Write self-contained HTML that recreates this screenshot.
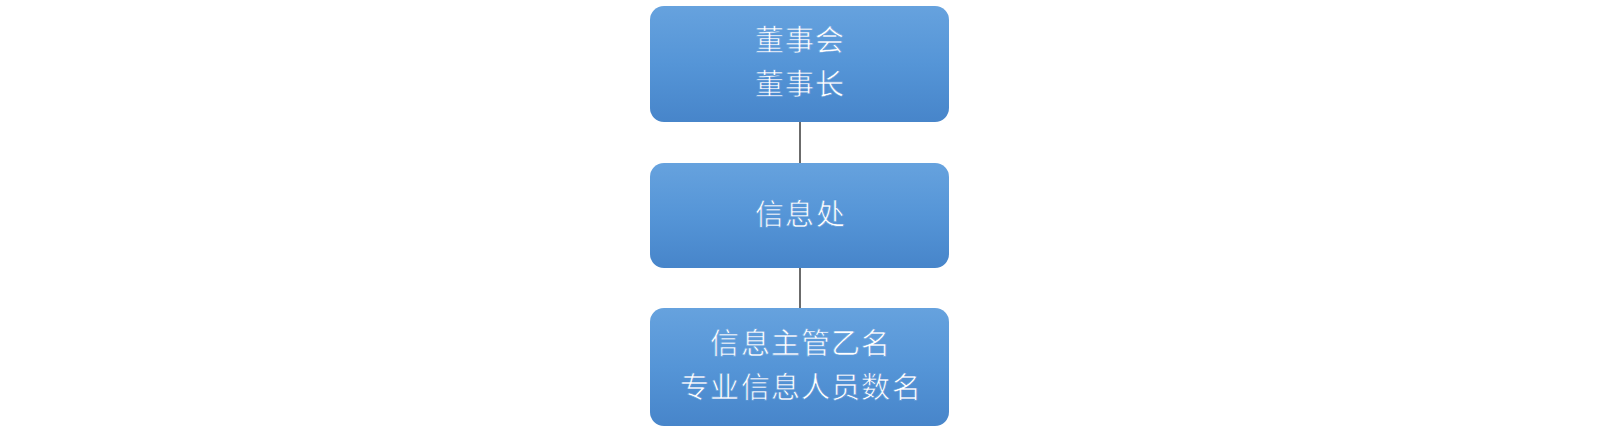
<!DOCTYPE html>
<html lang="zh-CN">
<head>
<meta charset="utf-8">
<style>
html,body{margin:0;padding:0;background:#fff;width:1600px;height:432px;overflow:hidden;}
body{position:relative;font-family:"Liberation Sans",sans-serif;}
.box{position:absolute;left:650px;width:299px;border-radius:14px;
  background:linear-gradient(to bottom,#66a2de 0%,#5595d7 50%,#4785ca 100%);
  color:#fff;font-size:29px;line-height:44px;text-align:center;}
.line{position:absolute;left:799px;width:2px;background:#6b6b6b;}
.t{position:absolute;left:0;right:0;white-space:nowrap;letter-spacing:1.2px;text-indent:1.2px;-webkit-text-stroke:0.6px #5595d7;}
</style>
</head>
<body>
<div class="line" style="top:122px;height:41px;"></div>
<div class="line" style="top:268px;height:40px;"></div>
<div class="box" style="top:6px;height:116px;">
  <div class="t" style="top:13px;-webkit-text-stroke-color:#5f9ddb;">董事会</div>
  <div class="t" style="top:57px;-webkit-text-stroke-color:#5090d3;">董事长</div>
</div>
<div class="box" style="top:163px;height:105px;">
  <div class="t" style="left:1px;top:30px;">信息处</div>
</div>
<div class="box" style="top:308px;height:118px;">
  <div class="t" style="left:2px;top:14px;-webkit-text-stroke-color:#5f9ddb;">信息主管乙名</div>
  <div class="t" style="left:2px;top:58px;-webkit-text-stroke-color:#5090d3;">专业信息人员数名</div>
</div>
</body>
</html>
